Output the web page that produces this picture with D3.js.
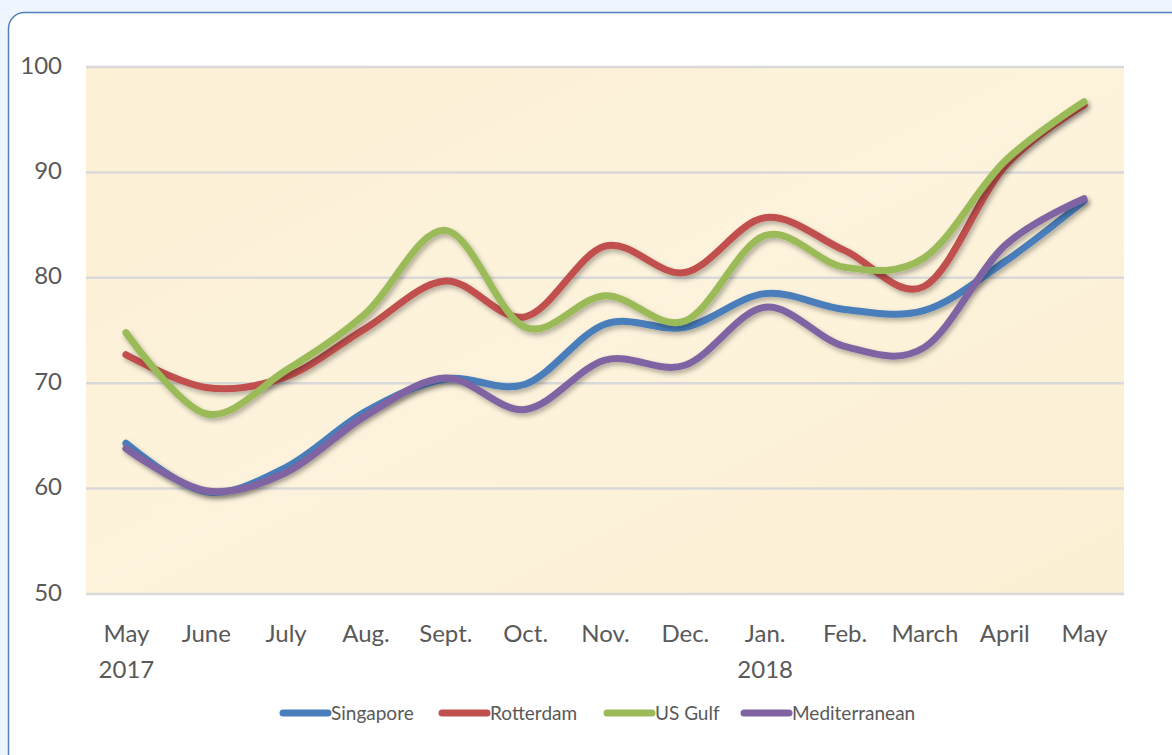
<!DOCTYPE html>
<html>
<head>
<meta charset="utf-8">
<script src="https://cdn.jsdelivr.net/npm/d3@7"></script>
<style>
  html, body { margin: 0; padding: 0; background: #eef5fc; }
  svg { display: block; }
  .tick text { fill: #595959; }
</style>
</head>
<body>
<svg id="chart" width="1172" height="755"></svg>
<script>
// categories (two-line labels)
var months = ["May", "June", "July", "Aug.", "Sept.", "Oct.", "Nov.", "Dec.", "Jan.", "Feb.", "March", "April", "May"];
var years  = ["2017", "", "", "", "", "", "", "", "2018", "", "", "", ""];
var yTicks = [50, 60, 70, 80, 90, 100];

// series values
var singapore     = [64.3, 59.7, 62.0, 67.3, 70.4, 69.9, 75.6, 75.3, 78.5, 77.0, 76.9, 81.5, 87.3];
var rotterdam     = [72.7, 69.6, 70.6, 75.2, 79.7, 76.3, 83.0, 80.5, 85.7, 82.6, 79.2, 90.5, 96.4];
var usGulf        = [74.8, 67.1, 71.2, 76.6, 84.5, 75.3, 78.3, 75.9, 84.0, 81.0, 81.9, 91.0, 96.7];
var mediterranean = [63.8, 59.8, 61.5, 66.9, 70.5, 67.5, 72.2, 71.7, 77.2, 73.5, 73.4, 83.0, 87.5];

var seriesNames  = ["Singapore", "Rotterdam", "US Gulf", "Mediterranean"];
var seriesValues = [singapore, rotterdam, usGulf, mediterranean];
var palette      = ["#4a7ebb", "#c0504d", "#9bbb59", "#8064a2"];

var font = "Lato, 'Open Sans', sans-serif";

var svg = d3.select("#chart");
var margin = { left: 86, top: 67, right: 48, bottom: 161 };
var width  = 1172 - margin.left - margin.right;
var height = 755 - margin.top - margin.bottom;

// card with rounded border
svg.append("rect")
  .attr("x", 8.5).attr("y", 12.5)
  .attr("width", 1180).attr("height", 780)
  .attr("rx", 16)
  .style("fill", "#fff")
  .style("stroke", "#4f81bd")
  .style("stroke-width", 1.5);

var defs = svg.append("defs");
var grad = defs.append("linearGradient").attr("id", "paper").attr("x1", 0).attr("y1", 0).attr("x2", 1).attr("y2", 1);
grad.append("stop").attr("offset", "0%").attr("stop-color", "#fcf0d5");
grad.append("stop").attr("offset", "50%").attr("stop-color", "#fdf3dc");
grad.append("stop").attr("offset", "100%").attr("stop-color", "#fbefd3");

var shadow = defs.append("filter").attr("id", "shadow")
  .attr("x", "-10%").attr("y", "-10%").attr("width", "120%").attr("height", "130%");
shadow.append("feDropShadow")
  .attr("dx", 2).attr("dy", 3).attr("stdDeviation", 2.5)
  .attr("flood-color", "#000").attr("flood-opacity", 0.3);

var g = svg.append("g").attr("transform", "translate(" + margin.left + "," + margin.top + ")");

var x = d3.scalePoint().domain(d3.range(months.length)).range([0, width]).padding(0.5);
var y = d3.scaleLinear().domain([50, 100]).range([height, 0]);

g.append("rect")
  .attr("width", width).attr("height", height)
  .style("fill", "url(#paper)");

// gridlines
g.selectAll("line.grid").data(yTicks).enter().append("line")
  .attr("class", "grid")
  .attr("x1", 0).attr("x2", width)
  .attr("y1", function(d) { return y(d); })
  .attr("y2", function(d) { return y(d); })
  .style("stroke", "#d9d9d9")
  .style("stroke-width", 2.5);

// y axis
var yAxis = g.append("g")
  .call(d3.axisLeft(y).tickValues(yTicks).tickSize(0).tickPadding(24));
yAxis.select(".domain").remove();
yAxis.selectAll("text")
  .style("font-family", font).style("font-size", "24px")
  .attr("dy", "0.25em");

// x axis, two-line labels
var xAxis = g.append("g")
  .attr("transform", "translate(0," + height + ")")
  .call(d3.axisBottom(x).tickSize(0).tickFormat(function() { return ""; }));
xAxis.select(".domain").remove();
xAxis.selectAll(".tick text").remove();
xAxis.selectAll(".tick").append("text")
  .attr("y", 48)
  .attr("text-anchor", "middle")
  .style("font-family", font).style("font-size", "24px")
  .text(function(d) { return months[d]; });
xAxis.selectAll(".tick").append("text")
  .attr("y", 84)
  .attr("text-anchor", "middle")
  .style("font-family", font).style("font-size", "24px")
  .text(function(d) { return years[d]; });

// lines
var line = d3.line()
  .curve(d3.curveCatmullRom.alpha(0))
  .x(function(d, i) { return x(i); })
  .y(function(d) { return y(d); });

g.selectAll("path.data-lines").data(seriesValues).enter().append("path")
  .attr("class", "data-lines")
  .attr("d", line)
  .attr("filter", "url(#shadow)")
  .style("fill", "none")
  .style("stroke", function(d, i) { return palette[i]; })
  .style("stroke-width", 7)
  .style("stroke-linecap", "round")
  .style("stroke-linejoin", "round");

// legend
var legendX = [283, 442, 607, 744];
var legend = svg.append("g").attr("transform", "translate(0,713)");
var items = legend.selectAll("g.item").data(seriesNames).enter().append("g")
  .attr("class", "item")
  .attr("transform", function(d, i) { return "translate(" + legendX[i] + ",0)"; });
items.append("line")
  .attr("x1", 0).attr("x2", 45)
  .style("stroke", function(d, i) { return palette[i]; })
  .style("stroke-width", 7)
  .style("stroke-linecap", "round");
items.append("text")
  .attr("x", 48).attr("dy", "0.36em")
  .style("font-family", font).style("font-size", "19px")
  .style("fill", "#595959")
  .text(function(d) { return d; });
</script>
</body>
</html>
